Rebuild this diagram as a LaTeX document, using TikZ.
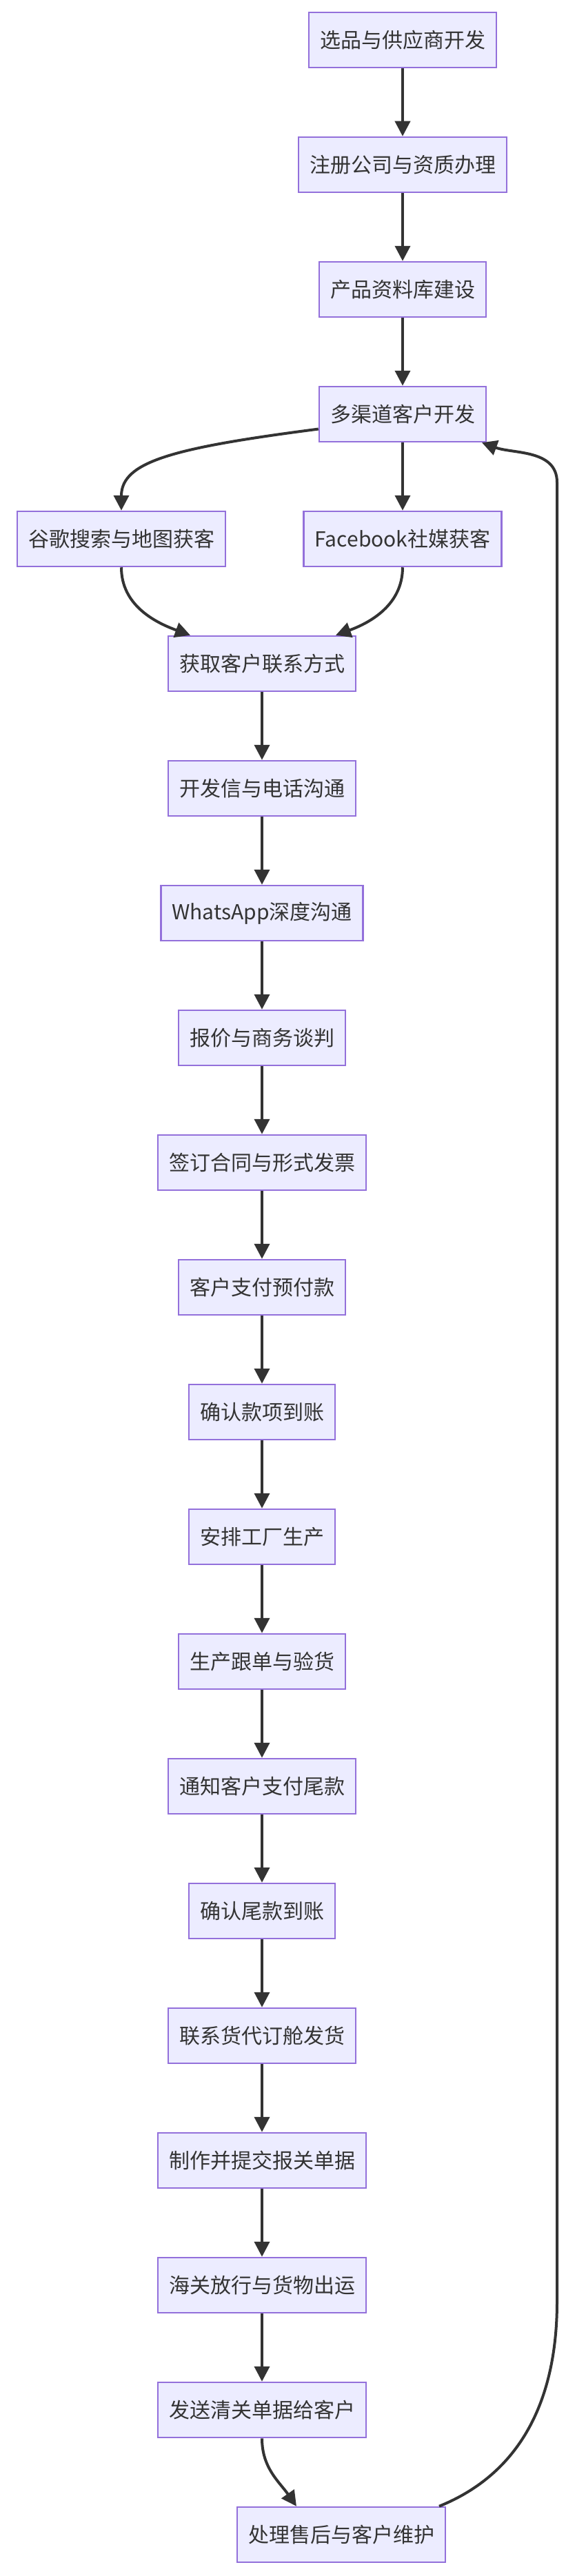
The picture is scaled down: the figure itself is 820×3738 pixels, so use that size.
\documentclass[tikz,border=0pt]{standalone}
\usepackage{fontspec}
\setmainfont{Noto Sans CJK SC}
\usetikzlibrary{arrows.meta,positioning}
\definecolor{boxfill}{HTML}{ECECFF}
\definecolor{boxline}{HTML}{9370DB}
\definecolor{flowline}{HTML}{333333}
\tikzset{
  stage/.style={draw=boxline, fill=boxfill, line width=2.5pt, minimum height=80pt, inner xsep=16pt, font=\fontsize{30}{36}\selectfont, text=flowline},
  flow/.style={draw=flowline, line width=4pt, -{Triangle[length=22pt,width=22pt]}}
}
\begin{document}
\begin{tikzpicture}[x=1pt, y=1pt]
	\useasboundingbox (0,0) rectangle (820,-3738);
	
	\node [stage] (n1) at (584,-58) {选品与供应商开发};
	\node [stage] (n2) at (584,-239) {注册公司与资质办理};
	\node [stage] (n3) at (584,-420) {产品资料库建设};
	\node [stage] (n4) at (584,-601) {多渠道客户开发};
	\node [stage] (google) at (176,-782) {谷歌搜索与地图获客};
	\node [stage] (fb) at (584,-782) {Facebook社媒获客};
	
	\foreach \i/\t in {6/获取客户联系方式, 7/开发信与电话沟通, 8/WhatsApp深度沟通, 9/报价与商务谈判, 10/签订合同与形式发票, 11/客户支付预付款, 12/确认款项到账, 13/安排工厂生产, 14/生产跟单与验货, 15/通知客户支付尾款, 16/确认尾款到账, 17/联系货代订舱发货, 18/制作并提交报关单据, 19/海关放行与货物出运, 20/发送清关单据给客户}
		\node [stage] (n\i) at (380,{-58-181*(\i-1)}) {\t};
	
	\node [stage] (n21) at (495,-3678) {处理售后与客户维护};
	
	\path [flow] (n1) -- (n2);
	\path [flow] (n2) -- (n3);
	\path [flow] (n3) -- (n4);
	\path [flow] (n4) -- (fb);
	\path [flow] (n4.190) .. controls (250,-650) and (176,-670) .. (google.north);
	\path [flow] (google.south) to[out=-90, in=160] ([xshift=-104pt]n6.north);
	\path [flow] (fb.south) to[out=-90, in=20] ([xshift=107pt]n6.north);
	\foreach \i [evaluate=\i as \j using int(\i+1)] in {6,...,19}
		\path [flow] (n\i) -- (n\j);
	\path [flow] (n20.south) to[out=-90, in=125] ([xshift=-65pt]n21.north);
	
	\coordinate (loopb) at (808,-3340);
	\coordinate (loopt) at (808,-700);
	\path [flow] ([xshift=142pt]n21.north) to[out=22, in=-90] (loopb) -- (loopt) to[out=90, in=-20] ([xshift=115pt]n4.south);
\end{tikzpicture}
\end{document}
